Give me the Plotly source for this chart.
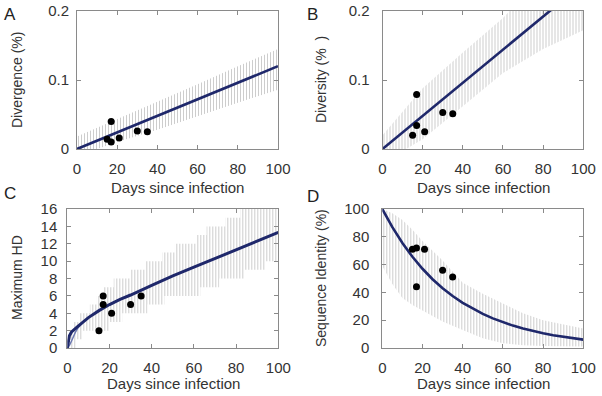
import plotly.graph_objects as go

# ---------------- data ----------------
days_ticks = [0, 20, 40, 60, 80, 100]
obs_days = [15, 17, 17, 21, 30, 35]

# Panel A - Divergence (%)
a_obs = [0.014, 0.040, 0.010, 0.016, 0.026, 0.025]
a_line_x = [0, 50, 100]
a_line_y = [0.0, 0.060, 0.120]
a_band_x = [0, 20, 40, 60, 80, 100]
a_band_hi = [0.018, 0.043, 0.069, 0.094, 0.120, 0.145]
a_band_lo = [-0.010, 0.010, 0.028, 0.048, 0.067, 0.086]

# Panel B - Diversity (%)
b_obs = [0.020, 0.079, 0.034, 0.025, 0.053, 0.051]
b_line_x = [0, 50, 100]
b_line_y = [0.0, 0.120, 0.240]
b_band_x = [0, 20, 40, 60, 80, 100]
b_band_hi = [0.020, 0.088, 0.140, 0.190, 0.250, 0.310]
b_band_lo = [-0.020, 0.014, 0.062, 0.110, 0.145, 0.172]

# Panel C - Maximum HD
c_obs = [2, 6, 5, 4, 5, 6]
c_line_x = [0, 1, 2, 3, 5, 7, 10, 15, 20, 25, 30, 40, 50, 60, 70, 80, 90, 100]
c_line_y = [0, 1.4, 1.85, 2.1, 2.5, 2.9, 3.5, 4.3, 5.0, 5.6, 6.1, 7.2, 8.3, 9.3, 10.3, 11.3, 12.3, 13.3]
c_line2_x = [0, 1, 2, 3, 4, 5, 6, 7]
c_line2_y = [0, 0.3, 0.8, 1.4, 1.9, 2.3, 2.6, 2.85]
c_hi_x = [0, 1, 3, 6, 10.7, 14, 17, 22, 30, 37, 45, 51, 61, 66, 75, 82, 100]
c_hi_y = [1, 2, 3, 4, 5, 6, 7, 8, 9, 10, 11, 12, 13, 14, 15, 17, 17]
c_lo_x = [0, 4, 7, 20, 26, 38, 46, 63, 72, 84, 94, 100]
c_lo_y = [0, 1, 2, 3, 4, 5, 6, 7, 8, 9, 10, 10]

# Panel D - Sequence Identity (%)
d_obs = [71, 72, 44, 71, 56, 51]
d_line_x = [0, 5, 10, 15, 20, 25, 30, 35, 40, 45, 50, 55, 60, 65, 70, 75, 80, 85, 90, 95, 100]
d_line_y = [100, 86.9, 75.5, 65.6, 57.0, 49.5, 43.0, 37.4, 32.5, 28.2, 24.5, 21.3,
            18.5, 16.1, 14.0, 12.2, 10.6, 9.2, 8.0, 6.9, 6.0]
d_band_x = [0, 5, 10, 15, 20, 30, 40, 50, 60, 70, 80, 90, 100]
d_band_hi = [100, 97, 92, 85, 77, 63, 47, 39, 32, 25, 20, 17, 14]
d_band_lo = [59, 46, 36, 31, 27, 19, 13, 7, 3.5, 2, 1.5, 1, 1]

# ---------------- styling ----------------
W, H = 602, 396
FONT = "Liberation Sans, Arial, sans-serif"
NAVY = "#1f286b"
BAR = "#9c9c9c"
AXC = "#8a8a8a"
TXT = "#333333"

# pixel boxes (left, right, top, bottom)
boxes = {
    1: (77, 278, 11, 149),
    2: (382.5, 583.3, 11, 149),
    3: (67.3, 278.3, 209, 348),
    4: (382.3, 583.3, 209, 348),
}

fig = go.Figure()


def axes_of(ax):
    return ("x", "y") if ax == 1 else (f"x{ax}", f"y{ax}")


def band(ax, x_lo, y_lo, x_hi, y_hi, shape="linear"):
    xa, ya = axes_of(ax)
    fig.add_trace(go.Scatter(x=x_lo, y=y_lo, mode="lines", line=dict(width=0, shape=shape),
                             xaxis=xa, yaxis=ya, showlegend=False, hoverinfo="skip"))
    fig.add_trace(go.Scatter(x=x_hi, y=y_hi, mode="lines", line=dict(width=0, shape=shape),
                             fill="tonexty", fillcolor="rgba(0,0,0,0)",
                             fillpattern=dict(shape="|", size=3, solidity=0.34,
                                              fgcolor=BAR, bgcolor="rgba(255,255,255,0)"),
                             xaxis=xa, yaxis=ya, showlegend=False, hoverinfo="skip"))


def curve(ax, x, y, color=NAVY, width=2.6):
    xa, ya = axes_of(ax)
    fig.add_trace(go.Scatter(x=x, y=y, mode="lines", line=dict(color=color, width=width),
                             xaxis=xa, yaxis=ya, showlegend=False))


def dots(ax, y):
    xa, ya = axes_of(ax)
    fig.add_trace(go.Scatter(x=obs_days, y=y, mode="markers",
                             marker=dict(color="black", size=7),
                             xaxis=xa, yaxis=ya, showlegend=False))


band(1, a_band_x, a_band_lo, a_band_x, a_band_hi)
curve(1, a_line_x, a_line_y)
dots(1, a_obs)

band(2, b_band_x, b_band_lo, b_band_x, b_band_hi)
curve(2, b_line_x, b_line_y)
dots(2, b_obs)

band(3, c_lo_x, c_lo_y, c_hi_x, c_hi_y, shape="hv")
curve(3, c_line2_x, c_line2_y, color="#6c78b0", width=1.5)
curve(3, c_line_x, c_line_y, width=3)
dots(3, c_obs)

band(4, d_band_x, d_band_lo, d_band_x, d_band_hi)
curve(4, d_line_x, d_line_y)
dots(4, d_obs)

yticks = {
    1: ([0, 0.1, 0.2], ["0", "0.1", "0.2"], [0, 0.2], 4),
    2: ([0, 0.1, 0.2], ["0", "0.1", "0.2"], [0, 0.2], 9),
    3: (list(range(0, 17, 2)), [str(v) for v in range(0, 17, 2)], [0, 16], 6),
    4: (list(range(0, 101, 20)), [str(v) for v in range(0, 101, 20)], [0, 100], 9),
}

layout = dict(width=W, height=H, margin=dict(l=0, r=0, t=0, b=0, autoexpand=False),
              paper_bgcolor="white", plot_bgcolor="white",
              font=dict(family=FONT, size=15, color=TXT))

for i, (l, r, t, b) in boxes.items():
    sx = "" if i == 1 else str(i)
    common = dict(showline=True, linecolor=AXC, linewidth=1, mirror="ticks",
                  ticks="inside", ticklen=4, tickcolor=AXC, showgrid=False,
                  zeroline=False, automargin=False,
                  tickfont=dict(family=FONT, size=15, color=TXT))
    layout[f"xaxis{sx}"] = dict(domain=[l / W, r / W], range=[0, 100],
                                tickvals=days_ticks, ticktext=[str(v) for v in days_ticks],
                                anchor=f"y{sx}", ticklabelstandoff=6, **common)
    tv, tt, rng, so = yticks[i]
    layout[f"yaxis{sx}"] = dict(domain=[1 - b / H, 1 - t / H], range=rng,
                                tickvals=tv, ticktext=tt, anchor=f"x{sx}",
                                ticklabelstandoff=so, **common)

fig.update_layout(**layout)

# panel letters and axis titles as text annotations
letters = [("A", 10, 14), ("B", 312, 14), ("C", 10, 194), ("D", 313, 196)]
for txt, px, py in letters:
    fig.add_annotation(text=txt, x=px / W, y=1 - py / H, xref="paper", yref="paper",
                       showarrow=False, xanchor="center", yanchor="middle",
                       font=dict(family=FONT, size=17, color="#222222"))

xtitles = [(177.5, 187), (483, 187), (173, 383), (483, 383)]
for px, py in xtitles:
    fig.add_annotation(text="Days since infection", x=px / W, y=1 - py / H,
                       xref="paper", yref="paper", showarrow=False,
                       xanchor="center", yanchor="middle",
                       font=dict(family=FONT, size=15, color=TXT))

ytitles = [("Divergence (%)", 17, 80), ("Diversity (%\u00a0\u00a0)", 321, 80),
           ("Maximum HD", 17, 278), ("Sequence Identity (%)", 321, 278)]
for txt, px, py in ytitles:
    fig.add_annotation(text=txt, x=px / W, y=1 - py / H, xref="paper", yref="paper",
                       showarrow=False, xanchor="center", yanchor="middle", textangle=-90,
                       font=dict(family=FONT, size=14, color=TXT))

fig.write_html("out.html",
               config={"displayModeBar": False},
               post_script="document.body.style.margin='0';"
                           "document.body.style.overflow='hidden';")
